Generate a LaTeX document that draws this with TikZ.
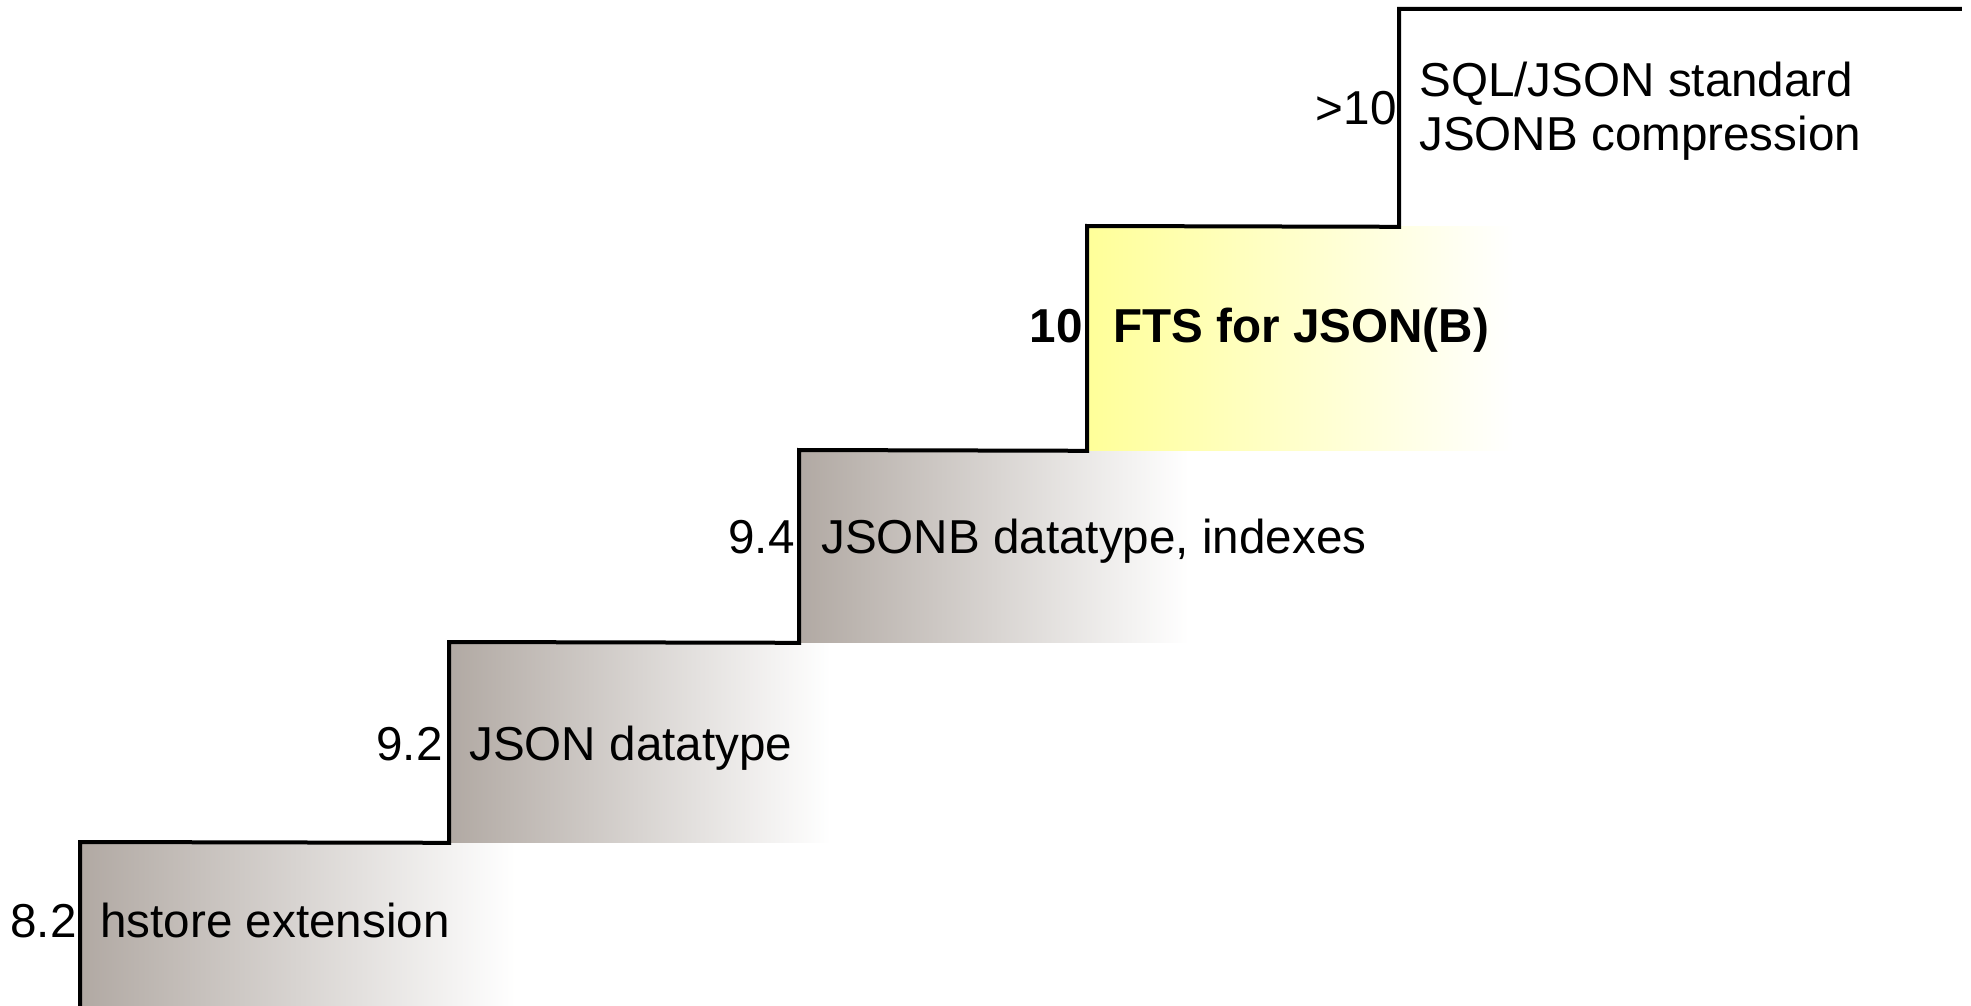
\documentclass[tikz,border=0pt]{standalone}
\usepackage{fontspec}
\setmainfont{Liberation Sans}
\usetikzlibrary{positioning}

\definecolor{stepgray}{RGB}{177,169,163}
\definecolor{stepyellow}{RGB}{255,255,153}

\tikzset{
  stepbox/.style={rectangle, inner sep=0pt, anchor=north west, draw=none},
  grayfade/.style={stepbox, left color=stepgray, right color=white},
  yellowfade/.style={stepbox, left color=stepyellow, right color=white},
  ver/.style={inner sep=0pt, anchor=base east, font=\fontsize{23.8}{27}\selectfont},
  feat/.style={inner sep=0pt, anchor=west, align=left, font=\fontsize{23.8}{27}\selectfont},
  stair/.style={line width=2pt, line join=miter}
}

\begin{document}
\begin{tikzpicture}[x=0.5pt, y=-0.5pt]
  \useasboundingbox (0,0) rectangle (1971,1006);

  % step boxes
  \node[grayfade, minimum width=217.5pt, minimum height=82pt]    (s1) at (80,842)   {};
  \node[grayfade, minimum width=190.5pt, minimum height=100pt]   (s2) at (449,642)  {};
  \node[grayfade, minimum width=194.5pt, minimum height=96pt]    (s3) at (799,450)  {};
  \node[yellowfade, minimum width=213pt, minimum height=112pt]   (s4) at (1087,226) {};
  \node[stepbox, minimum width=281pt, minimum height=108.5pt]    (s5) at (1399,9)   {};

  % the stairs
  \draw[stair] (s1.south west) -- (s1.north west) -- (s2.south west)
    -- (s2.north west) -- (s3.south west) -- (s3.north west)
    -- (s4.south west) -- (s4.north west) -- (s5.south west)
    -- (s5.north west) -- (s5.north east);

  % features
  \node[feat] (f1) [right=10pt of s1.west, yshift=2pt]    {hstore extension};
  \node[feat] (f2) [right=10pt of s2.west, yshift=-3pt]   {JSON datatype};
  \node[feat] (f3) [right=11pt of s3.west, yshift=2.5pt]  {JSONB datatype, indexes};
  \node[feat, font=\fontsize{23.8}{27}\selectfont\bfseries] (f4) [right=13pt of s4.west, yshift=4pt] {FTS for JSON(B)};
  \node[feat] (f5) [right=10pt of s5.west, yshift=3.5pt]  {SQL/JSON standard\\JSONB compression};

  % versions
  \node[ver] (v1) at ([xshift=-1.5pt]s1.west |- f1.base) {8.2};
  \node[ver] (v2) at ([xshift=-3pt]s2.west |- f2.base)   {9.2};
  \node[ver] (v3) at ([xshift=-2pt]s3.west |- f3.base)   {9.4};
  \node[ver, font=\fontsize{23.8}{27}\selectfont\bfseries] (v4) at ([xshift=-2pt]s4.west |- f4.base) {10};
  \node[ver, anchor=east] (v5) [left=1pt of s5.west, yshift=5pt] {>10};
\end{tikzpicture}
\end{document}
